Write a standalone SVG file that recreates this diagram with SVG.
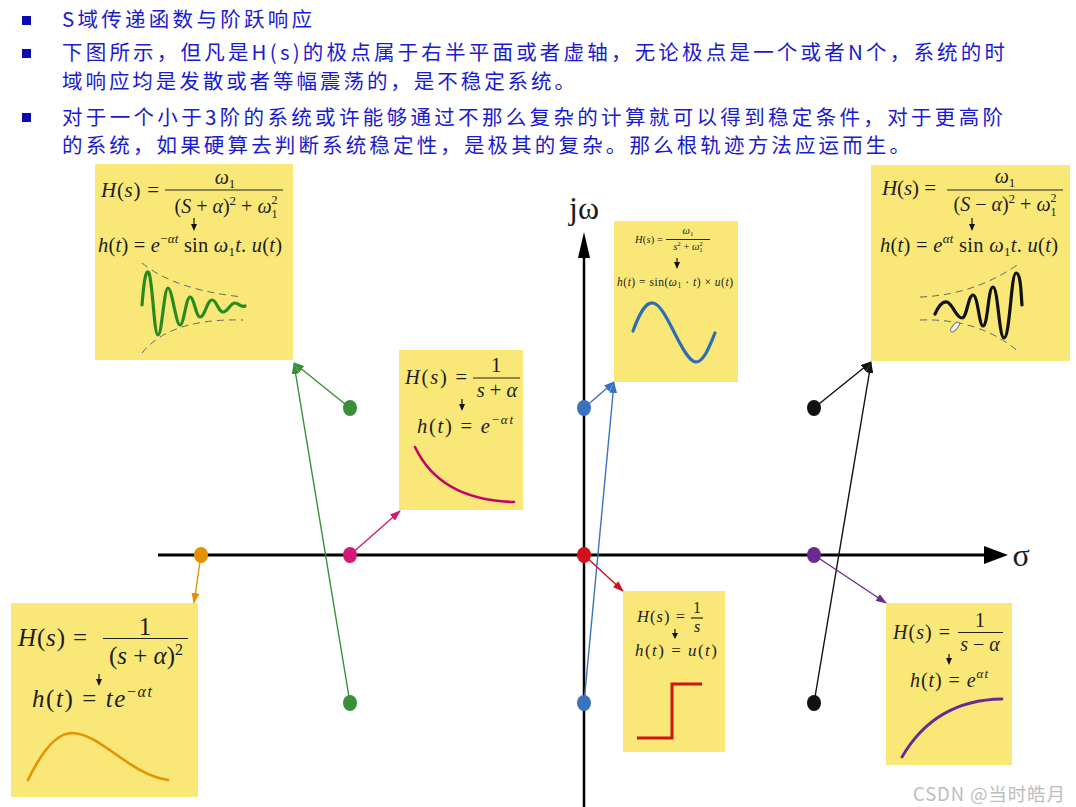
<svg xmlns="http://www.w3.org/2000/svg" width="1076" height="807" viewBox="0 0 1076 807">
<style>
.t{font-family:"Noto Sans CJK SC","Noto Sans",sans-serif;font-size:20.5px;fill:#1a1ad2}
.b{fill:#0a0ab4}
.box{fill:#f9e877}
.m{font-family:"Liberation Serif","DejaVu Serif",serif;fill:#1c1c1c}
.i{font-style:italic}
.c{fill:none;stroke-width:1.4}
.env{fill:none;stroke:#666;stroke-width:1;stroke-dasharray:7 5}
.ax{stroke:#000;fill:none}
.bar{stroke:#222;stroke-width:1.2}
.ka{fill:#111}
</style>
<defs>
<marker id="mg" markerUnits="userSpaceOnUse" markerWidth="11" markerHeight="8" refX="10" refY="4" orient="auto"><path d="M0,0 L11,4 L0,8 z" fill="#3a8f3a"/></marker>
<marker id="mm" markerUnits="userSpaceOnUse" markerWidth="11" markerHeight="8" refX="10" refY="4" orient="auto"><path d="M0,0 L11,4 L0,8 z" fill="#d01a78"/></marker>
<marker id="mb" markerUnits="userSpaceOnUse" markerWidth="11" markerHeight="8" refX="10" refY="4" orient="auto"><path d="M0,0 L11,4 L0,8 z" fill="#3a72c0"/></marker>
<marker id="mk" markerUnits="userSpaceOnUse" markerWidth="11" markerHeight="8" refX="10" refY="4" orient="auto"><path d="M0,0 L11,4 L0,8 z" fill="#111"/></marker>
<marker id="mo" markerUnits="userSpaceOnUse" markerWidth="11" markerHeight="8" refX="10" refY="4" orient="auto"><path d="M0,0 L11,4 L0,8 z" fill="#e59000"/></marker>
<marker id="mr" markerUnits="userSpaceOnUse" markerWidth="11" markerHeight="8" refX="10" refY="4" orient="auto"><path d="M0,0 L11,4 L0,8 z" fill="#d2101e"/></marker>
<marker id="mp" markerUnits="userSpaceOnUse" markerWidth="11" markerHeight="8" refX="10" refY="4" orient="auto"><path d="M0,0 L11,4 L0,8 z" fill="#6a2a90"/></marker>
</defs>
<rect width="1076" height="807" fill="#fff"/>

<g id="header">
<rect class="b" x="22" y="16" width="9" height="9"/>
<rect class="b" x="22" y="49" width="9" height="9"/>
<rect class="b" x="22" y="113" width="9" height="9"/>
<text class="t" x="62" y="27" textLength="250" lengthAdjust="spacing">S域传递函数与阶跃响应</text>
<text class="t" x="62" y="60" textLength="943" lengthAdjust="spacing">下图所示，但凡是H(s)的极点属于右半平面或者虚轴，无论极点是一个或者N个，系统的时</text>
<text class="t" x="62" y="89" textLength="513" lengthAdjust="spacing">域响应均是发散或者等幅震荡的，是不稳定系统。</text>
<text class="t" x="62" y="125" textLength="941" lengthAdjust="spacing">对于一个小于3阶的系统或许能够通过不那么复杂的计算就可以得到稳定条件，对于更高阶</text>
<text class="t" x="62" y="153" textLength="848" lengthAdjust="spacing">的系统，如果硬算去判断系统稳定性，是极其的复杂。那么根轨迹方法应运而生。</text>
</g>

<g id="axes">
<line class="ax" x1="158" y1="555" x2="990" y2="555" stroke-width="3"/>
<path d="M984,546 L1008,555 L984,564 z" fill="#000"/>
<line class="ax" x1="584" y1="250" x2="584" y2="807" stroke-width="2.5"/>
<path d="M578,258 L584,232 L590,258 z" fill="#000"/>
<text class="m" x="584" y="219" font-size="32" text-anchor="middle">jω</text>
<text class="m" x="1021" y="566" font-size="32" text-anchor="middle">σ</text>
</g>

<g id="connectors">
<line class="c" stroke="#3a8f3a" x1="350" y1="408" x2="294" y2="363" marker-end="url(#mg)"/>
<line class="c" stroke="#3a8f3a" x1="350" y1="703" x2="294" y2="364" marker-end="url(#mg)"/>
<line class="c" stroke="#d01a78" x1="350" y1="555" x2="400" y2="511" marker-end="url(#mm)"/>
<line class="c" stroke="#3a72c0" x1="584" y1="408" x2="614" y2="382" marker-end="url(#mb)"/>
<line class="c" stroke="#3a72c0" x1="584" y1="703" x2="614" y2="383" marker-end="url(#mb)"/>
<line class="c" stroke="#111" x1="814" y1="408" x2="871" y2="362" marker-end="url(#mk)"/>
<line class="c" stroke="#111" x1="814" y1="703" x2="871" y2="363" marker-end="url(#mk)"/>
<line class="c" stroke="#e59000" x1="201" y1="555" x2="194" y2="603" marker-end="url(#mo)"/>
<line class="c" stroke="#d2101e" x1="584" y1="555" x2="623" y2="591" marker-end="url(#mr)"/>
<line class="c" stroke="#6a2a90" x1="814" y1="555" x2="886" y2="603" marker-end="url(#mp)"/>
</g>

<g id="poles">
<ellipse cx="201" cy="555" rx="7" ry="8" fill="#e59000"/>
<ellipse cx="350" cy="555" rx="7" ry="8" fill="#d01a78"/>
<ellipse cx="584" cy="555" rx="7" ry="8" fill="#d2101e"/>
<ellipse cx="814" cy="555" rx="7" ry="8" fill="#6a2a90"/>
<ellipse cx="350" cy="408" rx="7" ry="8" fill="#3a8f3a"/>
<ellipse cx="350" cy="703" rx="7" ry="8" fill="#3a8f3a"/>
<ellipse cx="584" cy="408" rx="7" ry="8" fill="#3a72c0"/>
<ellipse cx="584" cy="703" rx="7" ry="8" fill="#3a72c0"/>
<ellipse cx="814" cy="408" rx="7" ry="8" fill="#111"/>
<ellipse cx="814" cy="703" rx="7" ry="8" fill="#111"/>
</g>

<g id="box-damped">
<rect class="box" x="95" y="164" width="198" height="196"/>
<text class="m" x="101" y="197" font-size="21" textLength="58" lengthAdjust="spacing"><tspan class="i">H</tspan>(<tspan class="i">s</tspan>) =</text>
<text class="m" x="225" y="184" font-size="20" text-anchor="middle"><tspan class="i">ω</tspan><tspan font-size="13" baseline-shift="-4">1</tspan></text>
<line class="bar" x1="165" y1="190" x2="283" y2="190"/>
<text class="m" x="226" y="213" font-size="20" text-anchor="middle">(<tspan class="i">S</tspan> + <tspan class="i">α</tspan>)<tspan font-size="13" baseline-shift="8">2</tspan> + <tspan class="i">ω</tspan><tspan font-size="12" baseline-shift="-5">1</tspan><tspan font-size="12" dx="-6" baseline-shift="9">2</tspan></text>
<line x1="194" y1="218" x2="194" y2="225" stroke="#111" stroke-width="1.2"/><path class="ka" d="M191,224 L197,224 L194,231 z"/>
<text class="m" x="98" y="252" font-size="20.5" textLength="184" lengthAdjust="spacing"><tspan class="i">h</tspan>(<tspan class="i">t</tspan>) = <tspan class="i">e</tspan><tspan font-size="13" baseline-shift="9">−<tspan class="i">αt</tspan></tspan> sin <tspan class="i">ω</tspan><tspan font-size="13" baseline-shift="-4">1</tspan><tspan class="i">t</tspan>. <tspan class="i">u</tspan>(<tspan class="i">t</tspan>)</text>
<path class="env" d="M142,263 Q175,290 243,297"/>
<path class="env" d="M142,353 Q170,318 243,320"/>
<path d="M142,305 C144,280 146,268 149,273 C153,285 154,335 158,335 C162,335 164,288 168,288 C172,288 176,325 180,325 C184,325 186,297 190,297 C194,297 196,317 200,317 C205,317 207,300 212,300 C217,300 218,312 223,312 C228,312 230,303 235,303 C239,303 241,308 245,306" fill="none" stroke="#2a8a22" stroke-width="3.2" stroke-linecap="round"/>
</g>

<g id="box-decay">
<rect class="box" x="399" y="350" width="124" height="160"/>
<text class="m" x="405" y="384" font-size="20.5" textLength="62" lengthAdjust="spacing"><tspan class="i">H</tspan>(<tspan class="i">s</tspan>) =</text>
<text class="m" x="496" y="372" font-size="20.5" text-anchor="middle">1</text>
<line class="bar" x1="473" y1="378" x2="520" y2="378"/>
<text class="m" x="497" y="397" font-size="20.5" text-anchor="middle"><tspan class="i">s</tspan> + <tspan class="i">α</tspan></text>
<line x1="462" y1="399" x2="462" y2="405" stroke="#111" stroke-width="1.2"/><path class="ka" d="M459,404 L465,404 L462,411 z"/>
<text class="m" x="417" y="433" font-size="20.5" textLength="96" lengthAdjust="spacing"><tspan class="i">h</tspan>(<tspan class="i">t</tspan>) = <tspan class="i">e</tspan><tspan font-size="13" baseline-shift="9">−<tspan class="i">αt</tspan></tspan></text>
<path d="M415,447 Q440,500 514,502" fill="none" stroke="#c8006a" stroke-width="2.6" stroke-linecap="round"/>
</g>

<g id="box-sine">
<rect class="box" x="614" y="221" width="124" height="161"/>
<text class="m" x="635" y="243" font-size="10.5" textLength="28" lengthAdjust="spacing"><tspan class="i">H</tspan>(<tspan class="i">s</tspan>) =</text>
<text class="m" x="688" y="234" font-size="10.5" text-anchor="middle"><tspan class="i">ω</tspan><tspan font-size="7" baseline-shift="-2">1</tspan></text>
<line class="bar" x1="666" y1="239.5" x2="710" y2="239.5" stroke-width="0.8"/>
<text class="m" x="688" y="250" font-size="10.5" text-anchor="middle"><tspan class="i">s</tspan><tspan font-size="7" baseline-shift="4">2</tspan> + <tspan class="i">ω</tspan><tspan font-size="7" baseline-shift="-2">1</tspan><tspan font-size="7" dx="-3.5" baseline-shift="4">2</tspan></text>
<line x1="677" y1="258" x2="677" y2="263" stroke="#111" stroke-width="1.2"/><path class="ka" d="M674,262 L680,262 L677,269 z"/>
<text class="m" x="617" y="286" font-size="11.5" textLength="116" lengthAdjust="spacing"><tspan class="i">h</tspan>(<tspan class="i">t</tspan>) = sin(<tspan class="i">ω</tspan><tspan font-size="7.5" baseline-shift="-2">1</tspan> · <tspan class="i">t</tspan>) × <tspan class="i">u</tspan>(<tspan class="i">t</tspan>)</text>
<path d="M633,331 C640,312 646,302 653,303 C666,304 683,362 696,362 C704,362 710,345 715,333" fill="none" stroke="#2c6db5" stroke-width="3.2" stroke-linecap="round"/>
</g>

<g id="box-growing">
<rect class="box" x="871" y="165" width="199" height="196"/>
<text class="m" x="882" y="195" font-size="21" textLength="54" lengthAdjust="spacing"><tspan class="i">H</tspan>(<tspan class="i">s</tspan>) =</text>
<text class="m" x="1005" y="183" font-size="20" text-anchor="middle"><tspan class="i">ω</tspan><tspan font-size="13" baseline-shift="-4">1</tspan></text>
<line class="bar" x1="947" y1="190" x2="1063" y2="190"/>
<text class="m" x="1005" y="211" font-size="20" text-anchor="middle">(<tspan class="i">S</tspan> − <tspan class="i">α</tspan>)<tspan font-size="13" baseline-shift="8">2</tspan> + <tspan class="i">ω</tspan><tspan font-size="12" baseline-shift="-5">1</tspan><tspan font-size="12" dx="-6" baseline-shift="9">2</tspan></text>
<line x1="972" y1="218" x2="972" y2="225" stroke="#111" stroke-width="1.2"/><path class="ka" d="M969,224 L975,224 L972,231 z"/>
<text class="m" x="880" y="252" font-size="20.5" textLength="178" lengthAdjust="spacing"><tspan class="i">h</tspan>(<tspan class="i">t</tspan>) = <tspan class="i">e</tspan><tspan font-size="13" baseline-shift="9"><tspan class="i">αt</tspan></tspan> sin <tspan class="i">ω</tspan><tspan font-size="13" baseline-shift="-4">1</tspan><tspan class="i">t</tspan>. <tspan class="i">u</tspan>(<tspan class="i">t</tspan>)</text>
<path class="env" d="M920,297 Q975,295 1020,263"/>
<path class="env" d="M920,320 Q980,318 1020,353"/>
<path d="M935,314 C939,305 943,301 947,302 C953,304 956,318 962,318 C967,318 968,295 973,295 C978,295 979,326 983,326 C988,326 988,287 993,287 C998,287 999,338 1004,338 C1010,338 1011,273 1016,273 C1021,273 1021,295 1022,305" fill="none" stroke="#111" stroke-width="3.2" stroke-linecap="round"/>
<ellipse cx="955" cy="327" rx="2.5" ry="6" transform="rotate(40 955 327)" fill="#f4f4f4" stroke="#777" stroke-width="1"/>
</g>

<g id="box-double">
<rect class="box" x="11" y="603" width="187" height="194"/>
<text class="m" x="18" y="646" font-size="25" textLength="69" lengthAdjust="spacing"><tspan class="i">H</tspan>(<tspan class="i">s</tspan>) =</text>
<text class="m" x="145" y="635" font-size="25" text-anchor="middle">1</text>
<line class="bar" x1="103" y1="638.5" x2="188" y2="638.5" stroke-width="1.4"/>
<text class="m" x="146" y="664" font-size="25" text-anchor="middle">(<tspan class="i">s</tspan> + <tspan class="i">α</tspan>)<tspan font-size="16" baseline-shift="9">2</tspan></text>
<line x1="99" y1="674" x2="99" y2="680" stroke="#111" stroke-width="1.2"/><path class="ka" d="M96,679 L102,679 L99,686 z"/>
<text class="m" x="32" y="707" font-size="25" textLength="120" lengthAdjust="spacing"><tspan class="i">h</tspan>(<tspan class="i">t</tspan>) = <tspan class="i">te</tspan><tspan font-size="16" baseline-shift="10">−<tspan class="i">αt</tspan></tspan></text>
<path d="M28,780 C40,755 55,733 72,733 C100,733 130,775 168,780" fill="none" stroke="#e39400" stroke-width="2.6" stroke-linecap="round"/>
</g>

<g id="box-step">
<rect class="box" x="623" y="591" width="102" height="161"/>
<text class="m" x="637" y="622" font-size="16.5" textLength="48" lengthAdjust="spacing"><tspan class="i">H</tspan>(<tspan class="i">s</tspan>) =</text>
<text class="m" x="697" y="613" font-size="16" text-anchor="middle">1</text>
<line class="bar" x1="691" y1="618" x2="703" y2="618" stroke-width="1"/>
<text class="m i" x="697" y="632" font-size="16" text-anchor="middle">s</text>
<line x1="675" y1="629" x2="675" y2="634" stroke="#111" stroke-width="1.2"/><path class="ka" d="M672,633 L678,633 L675,639 z"/>
<text class="m" x="635" y="656" font-size="17" textLength="82" lengthAdjust="spacing"><tspan class="i">h</tspan>(<tspan class="i">t</tspan>) = <tspan class="i">u</tspan>(<tspan class="i">t</tspan>)</text>
<path d="M637,738 L672,738 L672,684 L702,684" fill="none" stroke="#cc1212" stroke-width="3"/>
</g>

<g id="box-unstable">
<rect class="box" x="886" y="603" width="126" height="162"/>
<text class="m" x="893" y="639" font-size="20" textLength="57" lengthAdjust="spacing"><tspan class="i">H</tspan>(<tspan class="i">s</tspan>) =</text>
<text class="m" x="980" y="627" font-size="20" text-anchor="middle">1</text>
<line class="bar" x1="958" y1="632.5" x2="1003" y2="632.5"/>
<text class="m" x="980" y="651" font-size="20" text-anchor="middle"><tspan class="i">s</tspan> − <tspan class="i">α</tspan></text>
<line x1="949" y1="654" x2="949" y2="659" stroke="#111" stroke-width="1.2"/><path class="ka" d="M946,658 L952,658 L949,665 z"/>
<text class="m" x="910" y="687" font-size="20" textLength="78" lengthAdjust="spacing"><tspan class="i">h</tspan>(<tspan class="i">t</tspan>) = <tspan class="i">e</tspan><tspan font-size="13" baseline-shift="9"><tspan class="i">αt</tspan></tspan></text>
<path d="M902,757 Q935,700 1002,699" fill="none" stroke="#6a2a90" stroke-width="2.8" stroke-linecap="round"/>
</g>

<text x="913" y="801" font-family="'Noto Sans CJK SC','Noto Sans',sans-serif" font-size="18.5" fill="#bdbdbd" textLength="152" lengthAdjust="spacing">CSDN @当时皓月</text>
</svg>
